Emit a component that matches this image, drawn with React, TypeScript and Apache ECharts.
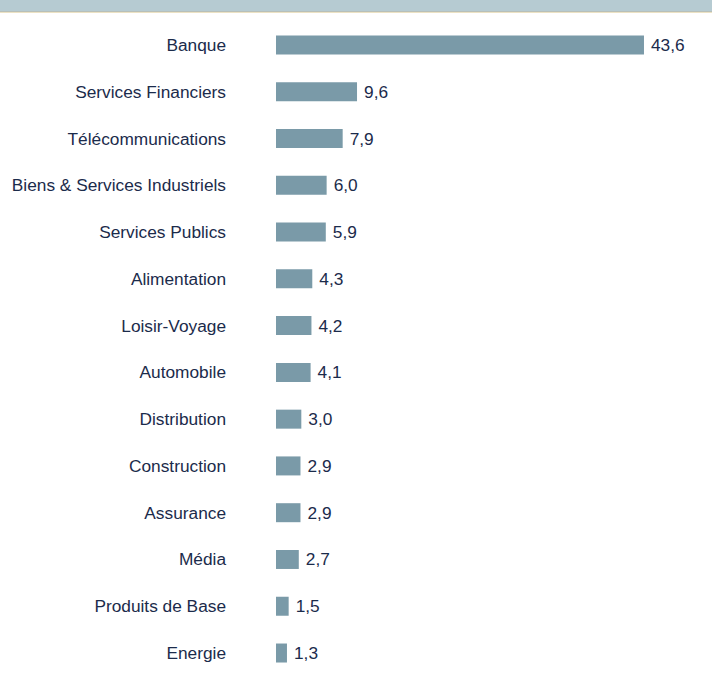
import React, { useEffect, useRef } from "react";
import * as echarts from "echarts";

const categories = [
  "Banque",
  "Services Financiers",
  "Télécommunications",
  "Biens & Services Industriels",
  "Services Publics",
  "Alimentation",
  "Loisir-Voyage",
  "Automobile",
  "Distribution",
  "Construction",
  "Assurance",
  "Média",
  "Produits de Base",
  "Energie",
];
const values = [43.6, 9.6, 7.9, 6.0, 5.9, 4.3, 4.2, 4.1, 3.0, 2.9, 2.9, 2.7, 1.5, 1.3];

const FONT = "'Liberation Sans', Arial, sans-serif";

export default function App() {
  const ref = useRef<HTMLDivElement>(null);
  useEffect(() => {
    if (!ref.current) return;
    const chart = echarts.init(ref.current, null, { renderer: "svg" });
    chart.setOption({
      animation: false,
      backgroundColor: "#ffffff",
      textStyle: { fontFamily: FONT },
      graphic: [
        { type: "rect", shape: { x: 0, y: 0, width: 712, height: 11 }, style: { fill: "#b6cbd2" } },
        { type: "rect", shape: { x: 0, y: 11, width: 712, height: 1 }, style: { fill: "#b8bfb8" } },
        { type: "rect", shape: { x: 0, y: 12, width: 712, height: 1 }, style: { fill: "#ece2c4" } },
      ],
      grid: { left: 276, right: 14, top: 21.6, bottom: 0.6, containLabel: false },
      xAxis: {
        type: "value",
        min: 0,
        max: 50,
        show: false,
      },
      yAxis: {
        type: "category",
        data: categories,
        inverse: true,
        axisLine: { show: false },
        axisTick: { show: false },
        splitLine: { show: false },
        axisLabel: {
          margin: 50,
          color: "#1b2b4b",
          fontSize: 17.3,
          fontFamily: FONT,
        },
      },
      series: [
        {
          type: "bar",
          data: values,
          barWidth: 19,
          itemStyle: { color: "#7a9aa8" },
          label: {
            show: true,
            position: "right",
            distance: 7,
            color: "#1b2b4b",
            fontSize: 17.3,
            fontFamily: FONT,
            formatter: (p: any) => p.value.toFixed(1).replace(".", ","),
          },
        },
      ],
    });
    return () => chart.dispose();
  }, []);
  return (
    <div
      ref={ref}
      style={{ position: "fixed", left: 0, top: 0, width: 712, height: 677 }}
    />
  );
}
